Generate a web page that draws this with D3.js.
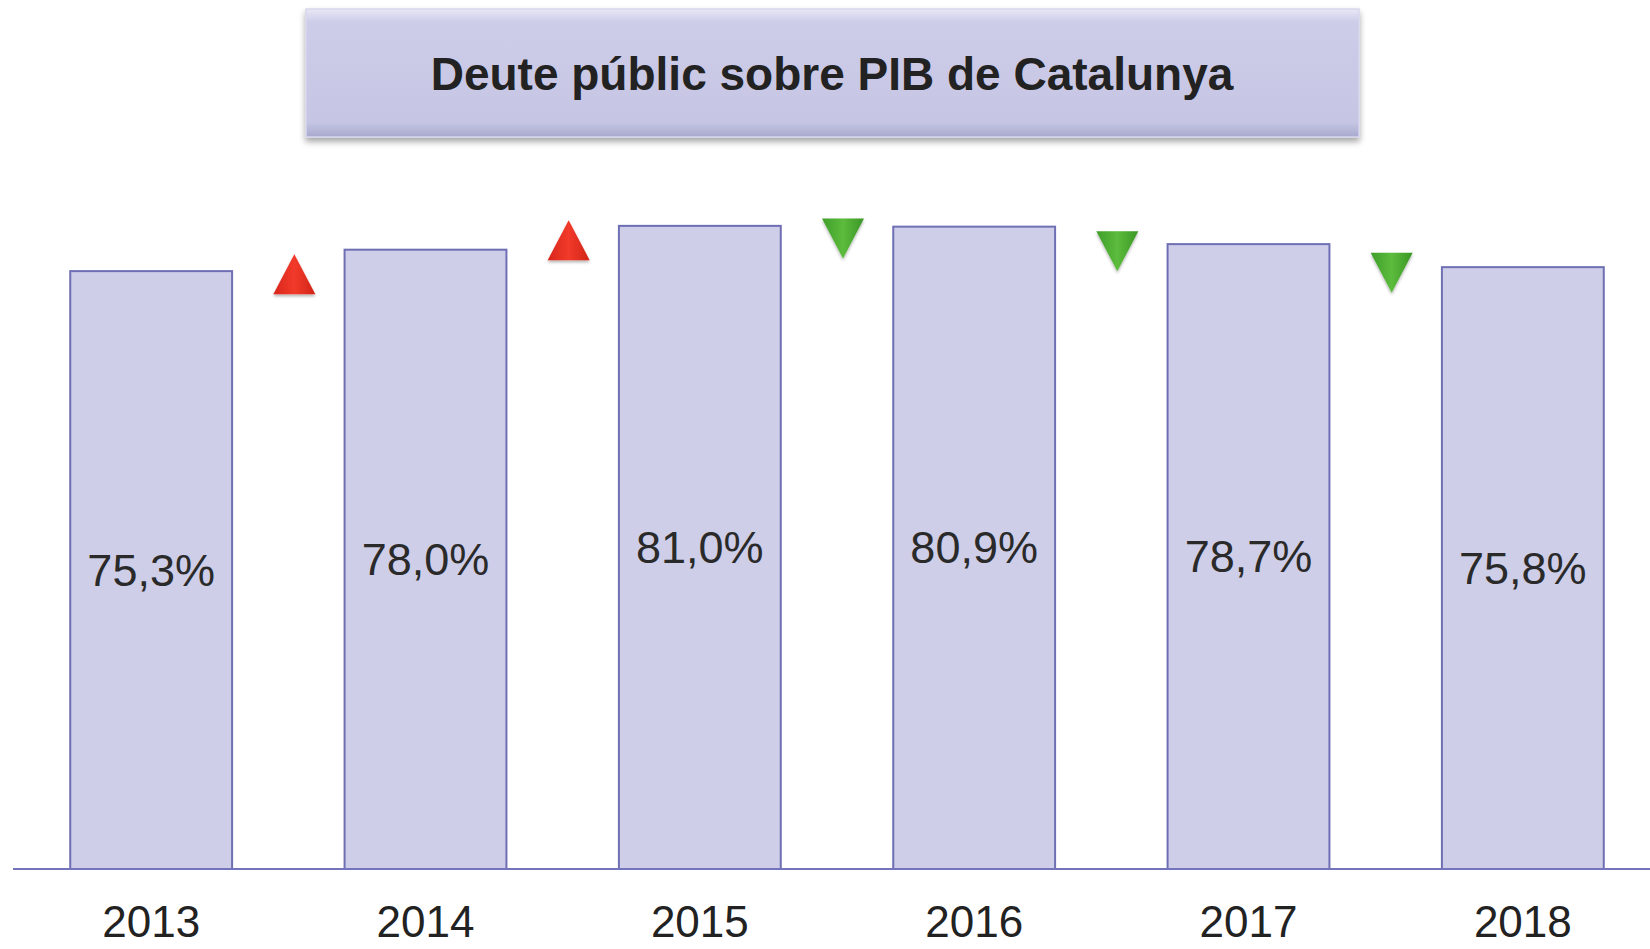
<!DOCTYPE html>
<html><head><meta charset="utf-8">
<script src="https://cdn.jsdelivr.net/npm/d3@7/dist/d3.min.js"></script>
<style>html,body{margin:0;padding:0;background:#fff;}svg{display:block;}</style>
</head><body>
<svg id="chart" width="1650" height="949"></svg>
<script>
const title = "Deute públic sobre PIB de Catalunya";
const years = ["2013","2014","2015","2016","2017","2018"];
const values = [75.3, 78.0, 81.0, 80.9, 78.7, 75.8];
const valueLabels = ["75,3%","78,0%","81,0%","80,9%","78,7%","75,8%"];
// change markers between consecutive years: direction and vertical level (in % units)
const markerDir = ["up","up","down","down","down"];
const markerLevel = [74.9, 79.2, 79.4, 77.8, 75.1];

const svg = d3.select("#chart");
const defs = svg.append("defs");

const tg = defs.append("linearGradient").attr("id","titleGrad").attr("x1",0).attr("y1",0).attr("x2",0).attr("y2",1);
tg.append("stop").attr("offset","0%").attr("stop-color","#e8e8f5");
tg.append("stop").attr("offset","10%").attr("stop-color","#cdcdea");
tg.append("stop").attr("offset","88%").attr("stop-color","#c6c6e4");
tg.append("stop").attr("offset","100%").attr("stop-color","#a9a9cf");

const sh = defs.append("filter").attr("id","shadow").attr("x","-5%").attr("y","-20%").attr("width","110%").attr("height","150%");
sh.append("feDropShadow").attr("dx",0).attr("dy",4).attr("stdDeviation",3).attr("flood-color","#000").attr("flood-opacity",0.35);

const sh2 = defs.append("filter").attr("id","tshadow").attr("x","-30%").attr("y","-30%").attr("width","160%").attr("height","170%");
sh2.append("feDropShadow").attr("dx",0).attr("dy",2).attr("stdDeviation",1.5).attr("flood-color","#000").attr("flood-opacity",0.3);

const rg = defs.append("linearGradient").attr("id","redGrad").attr("x1",0).attr("y1",0).attr("x2",1).attr("y2",0);
rg.append("stop").attr("offset","0%").attr("stop-color","#d8261c");
rg.append("stop").attr("offset","50%").attr("stop-color","#f23a2a");
rg.append("stop").attr("offset","100%").attr("stop-color","#d02418");
const gg = defs.append("linearGradient").attr("id","greenGrad").attr("x1",0).attr("y1",0).attr("x2",1).attr("y2",0);
gg.append("stop").attr("offset","0%").attr("stop-color","#3f9e2a");
gg.append("stop").attr("offset","50%").attr("stop-color","#5cbc3c");
gg.append("stop").attr("offset","100%").attr("stop-color","#3a9626");

// Title box
svg.append("rect").attr("x",306).attr("y",9).attr("width",1053).attr("height",128)
  .attr("fill","url(#titleGrad)").attr("stroke","#d6d6ec").attr("stroke-width",1.5)
  .attr("filter","url(#shadow)");
svg.append("text").attr("x",832).attr("y",74).attr("text-anchor","middle").attr("dominant-baseline","central")
  .attr("font-family","'Liberation Sans', Arial, sans-serif").attr("font-weight","bold").attr("font-size",46)
  .attr("fill","#222").text(title);

// Scales
const x = d3.scaleBand().domain(years).range([14, 1660]).paddingInner(0.41).paddingOuter(0.205);
const y = d3.scaleLinear().domain([0, 100]).range([869, 75]);

// Bars
svg.append("g").selectAll("rect").data(years).join("rect")
  .attr("x", d => x(d)).attr("y", (d,i) => y(values[i]))
  .attr("width", x.bandwidth()).attr("height", (d,i) => y(0) - y(values[i]))
  .attr("fill","#cecee9").attr("stroke","#6f6fb4").attr("stroke-width",2);

// Axis baseline + year labels
const axis = d3.axisBottom(x).tickSize(0).tickPadding(0);
const ax = svg.append("g").attr("transform",`translate(0,${y(0)})`).call(axis);
ax.select(".domain").attr("d","M13,0H1650").attr("stroke","#7474bc").attr("stroke-width",2);
ax.selectAll(".tick text").attr("font-family","'Liberation Sans', Arial, sans-serif")
  .attr("font-size",44).attr("fill","#222").attr("dy",null).attr("y",68);

// Value labels centered in bars
svg.append("g").selectAll("text").data(years).join("text")
  .attr("x", d => x(d) + x.bandwidth()/2)
  .attr("y", (d,i) => (y(values[i]) + y(0))/2)
  .attr("text-anchor","middle").attr("dominant-baseline","central")
  .attr("font-family","'Liberation Sans', Arial, sans-serif").attr("font-size",45).attr("fill","#2a2a2a")
  .text((d,i) => valueLabels[i]);

// Change markers between bars
const triW = 42, triH = 40;
svg.append("g").selectAll("path").data(markerDir).join("path")
  .attr("transform", (d,i) => {
    const cx = (x(years[i]) + x.bandwidth() + x(years[i+1]))/2 + 6;
    return `translate(${cx},${y(markerLevel[i])})`;
  })
  .attr("d", d => d === "up"
    ? `M0,${-triH/2}L${triW/2},${triH/2}L${-triW/2},${triH/2}Z`
    : `M${-triW/2},${-triH/2}L${triW/2},${-triH/2}L0,${triH/2}Z`)
  .attr("fill", d => d === "up" ? "url(#redGrad)" : "url(#greenGrad)")
  .attr("filter","url(#tshadow)");
</script>
</body></html>
